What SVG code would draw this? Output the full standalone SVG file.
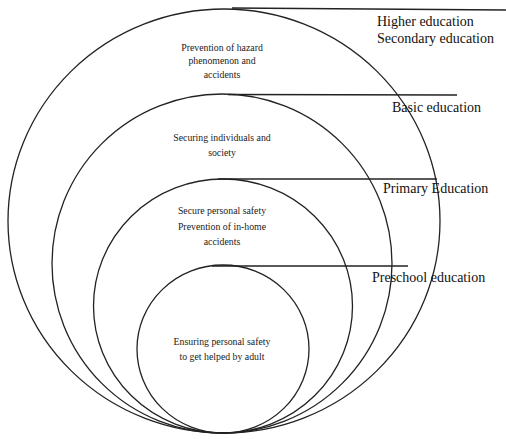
<svg xmlns="http://www.w3.org/2000/svg" width="506" height="439" viewBox="0 0 506 439">
<style>
.c{fill:none;stroke:#222;stroke-width:1.3}
.l{stroke:#222;stroke-width:1.3;fill:none}
.t{font-family:"Liberation Serif","Times New Roman",serif;font-size:9.8px;fill:#1a1a1a;text-anchor:middle}
.lab{font-family:"Liberation Serif","Times New Roman",serif;font-size:14px;fill:#111}
</style>
<rect width="506" height="439" fill="#fff"/>
<g id="higher">
<ellipse class="c" cx="224" cy="221" rx="216" ry="212"/>
<text class="t" x="222" y="51">Prevention of hazard</text>
<text class="t" x="222" y="64">phenomenon and</text>
<text class="t" x="222" y="78">accidents</text>
</g>
<g id="basic">
<ellipse class="c" cx="222" cy="263.5" rx="170" ry="169.5"/>
<text class="t" x="222" y="141">Securing individuals and</text>
<text class="t" x="222" y="156">society</text>
</g>
<g id="primary">
<ellipse class="c" cx="223" cy="306" rx="129.5" ry="127"/>
<text class="t" x="222" y="214">Secure personal safety</text>
<text class="t" x="222" y="230">Prevention of in-home</text>
<text class="t" x="222" y="245">accidents</text>
</g>
<g id="preschool">
<ellipse class="c" cx="223" cy="349" rx="86" ry="84"/>
<text class="t" x="222" y="345">Ensuring personal safety</text>
<text class="t" x="222" y="360">to get  helped by adult</text>
</g>
<g id="connectors">
<line class="l" x1="232" y1="8" x2="506" y2="10"/>
<line class="l" x1="228" y1="94.5" x2="457" y2="95"/>
<line class="l" x1="218" y1="179" x2="437" y2="179"/>
<line class="l" x1="212" y1="266" x2="408" y2="266"/>
</g>
<g id="labels">
<text class="lab" x="377" y="26">Higher education</text>
<text class="lab" x="377" y="43">Secondary education</text>
<text class="lab" x="392" y="112">Basic education</text>
<text class="lab" x="383" y="193">Primary Education</text>
<text class="lab" x="372" y="282">Preschool education</text>
</g>
</svg>
